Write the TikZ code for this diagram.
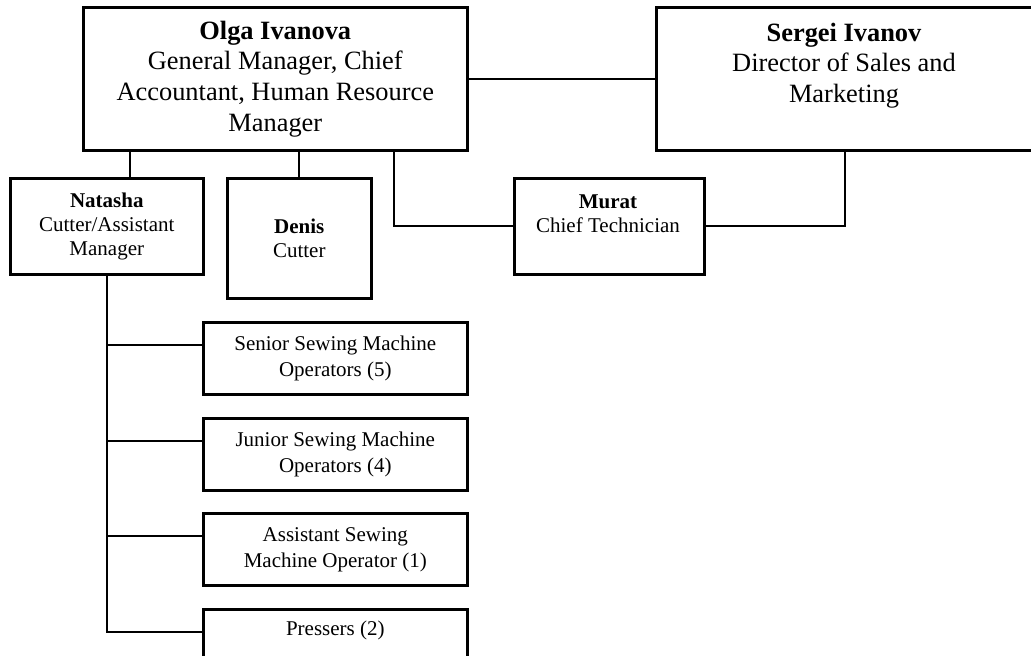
\documentclass[tikz,border=0pt]{standalone}
\usepackage{fontspec}
\setmainfont{Liberation Serif}
\usepackage{tikz}

\tikzset{
  box/.style={draw, line width=1.3pt, anchor=north west, inner sep=0pt, align=center},
  link/.style={line width=0.9pt},
  big/.style={font=\fontsize{13.2}{15.3}\selectfont},
  small/.style={font=\fontsize{10.5}{12}\selectfont},
  staff/.style={box, minimum width=132pt, minimum height=36pt, font=\fontsize{10.5}{13}\selectfont}
}

\begin{document}
\begin{tikzpicture}[x=0.5pt, y=-0.5pt]

		\clip (0,0) rectangle (1031,655);

		% management
		\node[box, big, minimum width=192pt, minimum height=71.5pt] (olga) at (82,6) {\textbf{Olga Ivanova}\\General Manager, Chief\\Accountant, Human Resource\\Manager};
		\node[box, minimum width=189pt, minimum height=71.5pt] (sergei) at (655,6) {};
		\node[big, align=center] (sergeitext) at (844,65.5) {\textbf{Sergei Ivanov}\\Director of Sales and\\Marketing};

		\node[box, small, minimum width=96.5pt, minimum height=48pt] (natasha) at (9,177) {\textbf{Natasha}\\Cutter/Assistant\\Manager};
		\node[box, small, minimum width=72pt, minimum height=60pt] (denis) at (226,177) {\textbf{Denis}\\Cutter};
		\node[box, minimum width=95pt, minimum height=48pt] (murat) at (513,177) {};
		\node[small, align=center] (murattext) at (608,213.5) {\textbf{Murat}\\Chief Technician};

		% sewing floor
		\node[staff] (senior) at (202,321) {Senior Sewing Machine\\Operators (5)};
		\node[staff] (junior) at (202,417) {Junior Sewing Machine\\Operators (4)};
		\node[staff] (assistant) at (202,512) {Assistant Sewing\\Machine Operator (1)};
		\node[staff] (pressers) at (202,608) {Pressers (2)\\ \strut};

		\draw[link] (olga.east) -- (sergei.west);
		\draw[link] (olga.south -| 130,0) -- (natasha.north -| 130,0);
		\draw[link] (olga.south -| denis.north) -- (denis.north);
		\draw[link] (olga.south -| 394,0) |- (murat.west);
		\draw[link] (sergei.south) |- (murat.east);

		\foreach \n in {senior,junior,assistant,pressers}
			\draw[link] (natasha.south) |- ([yshift=-12pt]\n.north west);

\end{tikzpicture}
\end{document}
